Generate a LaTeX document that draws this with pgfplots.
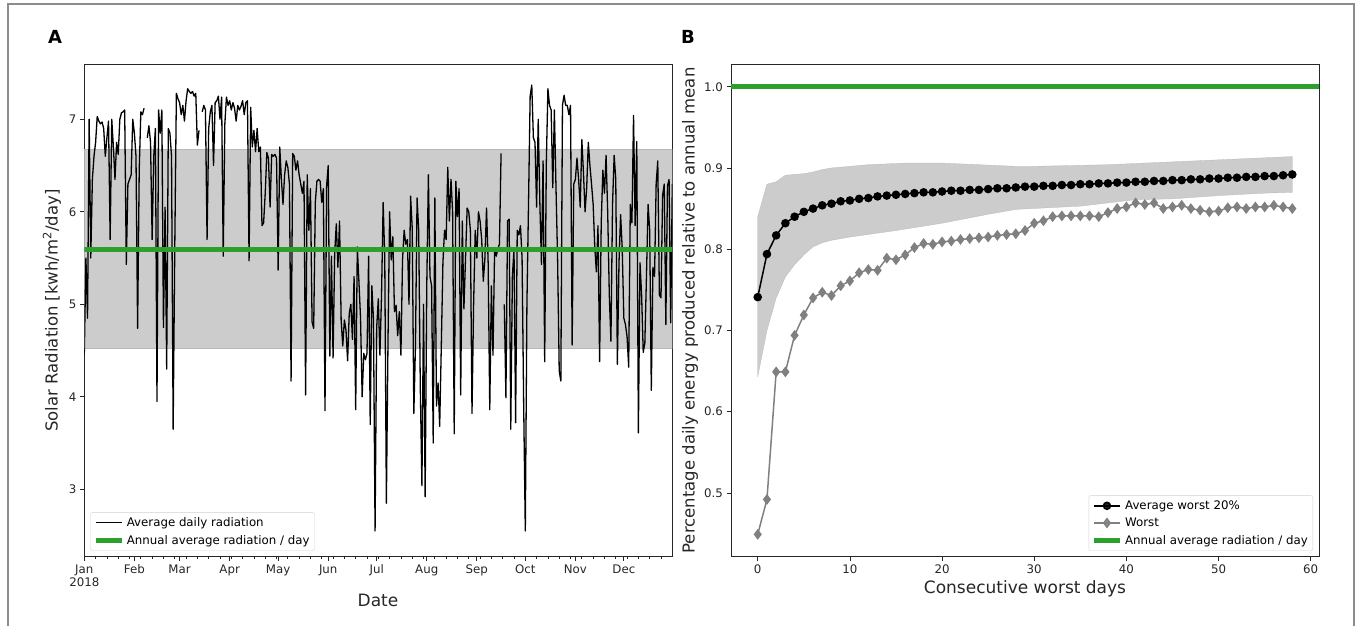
\documentclass[border=0pt]{standalone}
\usepackage{fontspec}
\setmainfont{DejaVu Sans}
\usepackage{pgfplots}
\pgfplotsset{compat=1.18}
\usepackage{pgfplotstable}
\definecolor{tabgreen}{HTML}{2CA02C}
\definecolor{bandgray}{HTML}{CCCCCC}
\definecolor{worstgray}{HTML}{808080}
\definecolor{spine}{HTML}{262626}

\pgfplotstableread{
d v
0 4.45
1 5.50
2 4.85
3 7.00
4 5.50
5 6.35
6 6.60
7 6.75
8 7.03
9 6.98
10 6.95
11 6.97
12 6.90
13 6.60
14 6.80
15 6.98
16 5.70
17 7.00
18 6.70
19 6.35
20 6.75
21 6.62
22 7.00
23 7.07
24 7.08
25 7.10
26 5.43
27 6.30
28 6.35
29 6.40
30 7.00
31 6.85
32 6.60
33 4.74
34 6.45
35 7.08
36 7.05
37 7.12
38 nan
39 6.80
40 6.93
41 6.75
42 5.70
43 6.60
44 6.90
45 3.95
46 7.10
47 6.85
48 7.10
49 4.75
50 6.05
51 4.30
52 6.90
53 6.85
54 6.60
55 3.65
56 5.60
57 7.28
58 7.22
59 7.18
60 7.05
61 7.15
62 6.98
63 7.20
64 7.33
65 7.30
66 7.28
67 7.30
68 7.25
69 7.28
70 6.72
71 6.88
72 nan
73 7.08
74 7.15
75 7.10
76 5.70
77 6.90
78 7.08
79 7.15
80 6.50
81 7.18
82 7.20
83 7.25
84 7.00
85 7.24
86 5.52
87 6.95
88 7.24
89 7.15
90 7.20
91 7.10
92 7.18
93 7.12
94 6.98
95 7.15
96 7.10
97 7.14
98 7.20
99 7.05
100 7.18
101 7.20
102 5.47
103 7.13
104 6.70
105 6.88
106 6.65
107 6.90
108 6.65
109 6.70
110 5.85
111 5.88
112 6.20
113 6.64
114 6.58
115 6.05
116 6.62
117 6.60
118 6.62
119 6.58
120 5.37
121 6.70
122 6.35
123 6.08
124 6.40
125 6.55
126 6.48
127 6.30
128 4.17
129 6.63
130 6.60
131 6.45
132 6.55
133 6.40
134 6.30
135 6.20
136 6.33
137 4.02
138 6.40
139 5.80
140 6.25
141 4.81
142 4.74
143 6.10
144 6.33
145 6.35
146 6.33
147 6.10
148 6.25
149 3.85
150 6.28
151 6.50
152 4.44
153 5.52
154 4.42
155 5.55
156 5.87
157 5.40
158 5.90
159 4.83
160 4.55
161 4.83
162 4.72
163 4.39
164 4.90
165 5.00
166 4.62
167 5.30
168 3.86
169 5.62
170 5.25
171 4.85
172 4.00
173 4.47
174 4.40
175 4.47
176 5.52
177 3.70
178 5.20
179 4.84
180 2.55
181 4.75
182 5.06
183 4.45
184 5.10
185 6.10
186 5.50
187 2.85
188 4.60
189 6.00
190 5.48
191 5.73
192 4.92
193 4.99
194 4.66
195 4.92
196 4.45
197 5.48
198 5.80
199 5.65
200 5.70
201 5.00
202 6.17
203 5.82
204 3.82
205 4.55
206 6.15
207 5.80
208 4.10
209 3.04
210 5.00
211 2.92
212 5.20
213 6.40
214 5.30
215 5.20
216 3.50
217 6.15
218 3.90
219 4.15
220 3.68
221 4.55
222 5.45
223 5.80
224 5.70
225 6.48
226 5.90
227 6.35
228 6.00
229 3.60
230 6.33
231 5.95
232 6.25
233 4.02
234 5.90
235 4.95
236 5.50
237 6.04
238 6.00
239 5.80
240 3.82
241 5.00
242 5.80
243 5.50
244 6.00
245 5.90
246 5.70
247 5.25
248 5.50
249 6.04
250 5.45
251 3.86
252 5.20
253 4.45
254 5.60
255 5.52
256 5.60
257 5.65
258 6.63
259 nan
260 5.00
261 3.99
262 5.90
263 5.92
264 3.65
265 5.30
266 5.60
267 3.72
268 5.80
269 5.75
270 5.85
271 5.50
272 3.90
273 2.55
274 5.00
275 6.10
276 7.25
277 7.37
278 6.80
279 6.75
280 6.05
281 7.00
282 6.10
283 5.43
284 6.55
285 4.38
286 6.52
287 7.33
288 7.15
289 7.10
290 6.26
291 7.10
292 6.26
293 5.48
294 4.28
295 4.17
296 7.15
297 7.26
298 7.15
299 7.15
300 7.05
301 7.15
302 4.56
303 6.30
304 6.35
305 6.58
306 6.35
307 6.05
308 6.78
309 6.42
310 6.00
311 6.26
312 6.75
313 6.50
314 6.30
315 6.08
316 5.62
317 5.35
318 5.85
319 4.38
320 5.88
321 6.45
322 6.20
323 6.61
324 6.00
325 5.10
326 4.60
327 6.08
328 6.61
329 6.35
330 4.35
331 5.45
332 5.97
333 5.60
334 4.85
335 4.78
336 4.65
337 4.32
338 6.08
339 5.88
340 7.04
341 5.85
342 6.76
343 3.61
344 5.45
345 5.10
346 4.48
347 4.58
348 5.30
349 6.08
350 5.80
351 4.07
352 5.40
353 5.30
354 6.30
355 6.55
356 5.10
357 5.07
358 6.18
359 6.30
360 4.78
361 6.28
362 6.35
363 4.80
364 6.30
}\radA

\pgfplotstableread{
x avg worst
0 0.741 0.449
1 0.794 0.492
2 0.817 0.649
3 0.832 0.649
4 0.840 0.694
5 0.846 0.719
6 0.850 0.740
7 0.854 0.747
8 0.856 0.743
9 0.859 0.755
10 0.860 0.761
11 0.862 0.771
12 0.863 0.775
13 0.865 0.774
14 0.866 0.789
15 0.867 0.787
16 0.868 0.793
17 0.869 0.802
18 0.870 0.807
19 0.870 0.806
20 0.871 0.809
21 0.872 0.810
22 0.872 0.812
23 0.873 0.813
24 0.873 0.814
25 0.874 0.815
26 0.875 0.817
27 0.875 0.818
28 0.876 0.819
29 0.877 0.823
30 0.877 0.832
31 0.878 0.835
32 0.878 0.840
33 0.879 0.841
34 0.879 0.841
35 0.880 0.841
36 0.880 0.841
37 0.881 0.840
38 0.881 0.845
39 0.882 0.850
40 0.882 0.852
41 0.883 0.857
42 0.883 0.855
43 0.884 0.857
44 0.884 0.850
45 0.885 0.852
46 0.885 0.854
47 0.886 0.850
48 0.886 0.848
49 0.887 0.846
50 0.887 0.847
51 0.888 0.851
52 0.888 0.852
53 0.889 0.850
54 0.889 0.852
55 0.890 0.852
56 0.890 0.854
57 0.891 0.852
58 0.892 0.850
}\radB

\pgfplotsset{
  common/.style={
    scale only axis, width=588pt, height=492.4pt, anchor=south west,
    axis line style={spine, line width=0.8pt},
    tick style={spine, line width=0.8pt},
    tick align=outside,
    major tick length=4.5pt, minor tick length=2.6pt,
    xtick pos=bottom, ytick pos=left,
    ticklabel style={font=\fontsize{11.8}{13}\selectfont, text=spine},
    /pgf/number format/assume math mode=true,
    legend cell align=left,
    legend style={draw=black!18, rounded corners=2pt, fill=white, fill opacity=0.85, text opacity=1,
      font=\fontsize{11.8}{13}\selectfont, inner sep=2.5pt, row sep=2pt,
      nodes={inner sep=2.5pt}},
    legend image code/.code={\draw[mark repeat=2,mark phase=2,##1] plot coordinates {(0pt,0pt) (13pt,0pt) (26pt,0pt)};},
  }
}

\begin{document}
\begin{tikzpicture}
\useasboundingbox (0pt,0pt) rectangle (1360pt,625pt);
\draw[black!45, line width=1.3pt] (8pt,-3pt) -- (8pt,621pt) -- (1354pt,621pt) -- (1354pt,-3pt);

\node[font=\fontsize{18}{20}\selectfont\bfseries, anchor=base] at (55pt,581pt) {A};
\node[font=\fontsize{18}{20}\selectfont\bfseries, anchor=base] at (688pt,581pt) {B};

% Panel A
\begin{axis}[common, at={(84.3pt,68.3pt)},
  xmin=0, xmax=364, ymin=2.272, ymax=7.594,
  xtick={0,31,59,90,120,151,181,212,243,273,304,334},
  xticklabels={{Jan\\2018},Feb,Mar,Apr,May,Jun,Jul,Aug,Sep,Oct,Nov,Dec},
  xticklabel style={align=center},
  minor xtick={7,14,...,357},
  ytick={3,4,5,6,7},
  unbounded coords=jump,
  legend style={at={(0,0)}, anchor=south west, xshift=6pt, yshift=6pt},
]
\addplot[fill=bandgray, draw=bandgray!90!black, line width=0.3pt, forget plot] coordinates {(0,4.526)(364,4.526)(364,6.68)(0,6.68)} -- cycle;
\addplot[black, line width=1.3pt, line join=round] table[x=d, y=v] {\radA};
\addlegendentry{Average daily radiation}
\addplot[tabgreen, line width=5.3pt] coordinates {(0,5.596)(364,5.596)};
\addlegendentry{Annual average radiation / day}
\end{axis}

\node[font=\fontsize{17}{20}\selectfont, anchor=base, text=spine] at (378pt,19pt) {Date};
\node[font=\fontsize{16.5}{20}\selectfont, rotate=90, text=spine] at (52pt,314.5pt) {Solar Radiation [kwh/m\textsuperscript{2}/day]};

% Panel B
\begin{axis}[common, at={(731pt,68.3pt)},
  xmin=-2.9, xmax=60.9, ymin=0.4215, ymax=1.0276,
  xtick={0,10,...,60},
  ytick={0.5,0.6,0.7,0.8,0.9,1.0},
  yticklabel style={/pgf/number format/.cd, fixed, fixed zerofill, precision=1},
  legend style={at={(1,0)}, anchor=south east, xshift=-6pt, yshift=6pt},
]
\addplot[fill=bandgray, draw=bandgray!90!black, line width=0.3pt, forget plot] coordinates {
(0,0.840)(1,0.880)(2,0.883)(3,0.891)(4,0.892)(5,0.893)(6,0.895)(7,0.898)(8,0.900)(9,0.901)(10,0.902)(12,0.904)(14,0.905)(16,0.906)(18,0.906)(20,0.906)(22,0.905)(24,0.904)(26,0.903)(28,0.902)(30,0.902)(34,0.903)(38,0.904)(42,0.906)(46,0.908)(50,0.910)(54,0.912)(58,0.914)
(58,0.870)(55,0.869)(50,0.866)(45,0.862)(41,0.861)(35,0.853)(28,0.849)(25,0.843)(20,0.832)(15,0.823)(10,0.815)(8,0.811)(7,0.808)(6,0.803)(5,0.793)(4,0.781)(3,0.766)(2,0.740)(1,0.700)(0,0.643)} -- cycle;
\addplot[black, line width=1.5pt, mark=*, mark size=3.5pt] table[x=x, y=avg] {\radB};
\addlegendentry{Average worst 20\%}
\addplot[worstgray, line width=1.5pt, mark=diamond*, mark size=4.2pt] table[x=x, y=worst] {\radB};
\addlegendentry{Worst}
\addplot[tabgreen, line width=5.3pt] coordinates {(-2.9,1.0)(60.9,1.0)};
\addlegendentry{Annual average radiation / day}
\end{axis}

\node[font=\fontsize{17}{20}\selectfont, anchor=base, text=spine] at (1025pt,32pt) {Consecutive worst days};
\node[font=\fontsize{16.5}{20}\selectfont, rotate=90, text=spine] at (690pt,314.5pt) {Percentage daily energy produced relative to annual mean};
\end{tikzpicture}
\end{document}
